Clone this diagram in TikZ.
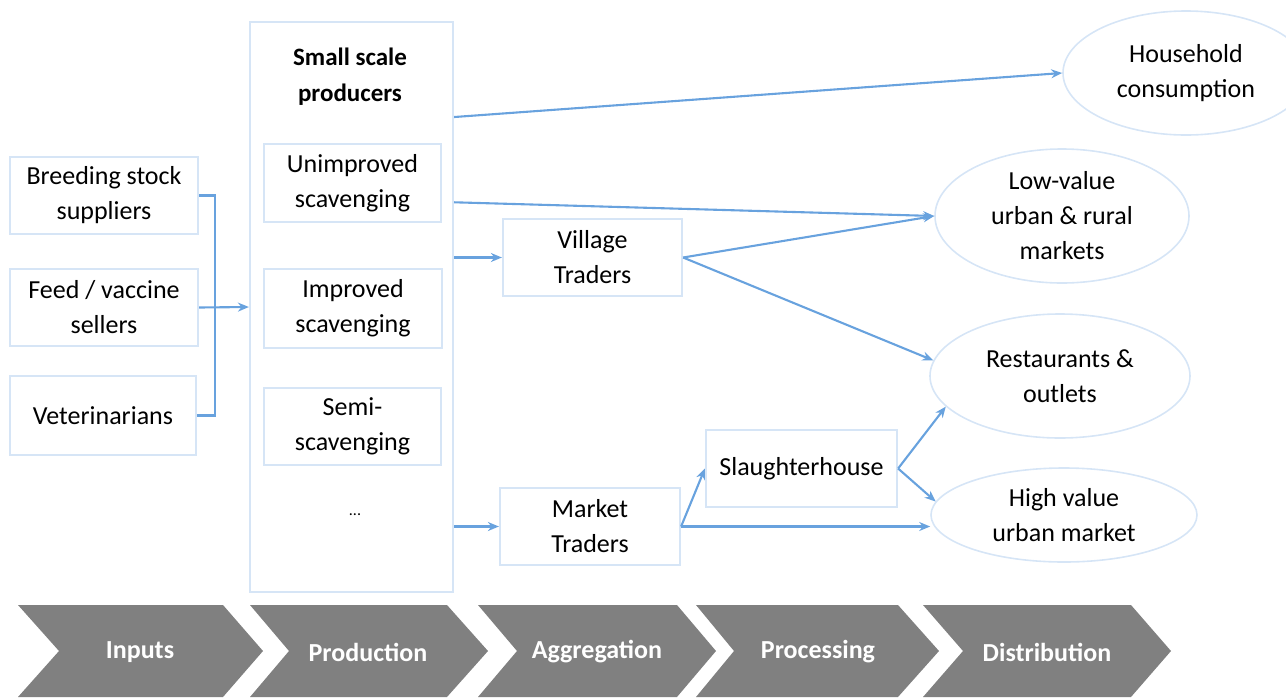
\documentclass[tikz,border=0pt]{standalone}
\usepackage{fontspec}
\setmainfont{Carlito}
\usetikzlibrary{shapes.geometric,arrows.meta,calc}
\definecolor{boxc}{RGB}{214,229,246}
\definecolor{arr}{RGB}{104,162,222}
\definecolor{chev}{RGB}{128,128,128}
\begin{document}
\begin{tikzpicture}[x=1pt,y=-1pt,
  box/.style={draw=boxc, line width=2.2pt, fill=white, align=center,
    font=\fontsize{26}{35}\selectfont, inner sep=0pt},
  oval/.style={ellipse, draw=boxc, line width=1.6pt, inner sep=0pt},
  lbl/.style={align=center, font=\fontsize{26}{35}\selectfont, inner sep=0pt},
  flow/.style={draw=arr, line width=2.1pt, -{Stealth[length=11pt,width=9pt]}},
  bracket/.style={draw=arr, line width=2.6pt},
  chevshape/.style={fill=chev},
  chevtext/.style={text=white, font=\bfseries\fontsize{26}{28}\selectfont, inner sep=0pt}
]
\clip (0,0) rectangle (1286,697);
\useasboundingbox (0,0) rectangle (1286,697);

% inputs
\node[box, minimum width=188pt, minimum height=77pt] (in1) at (104,195.5) {Breeding stock\\suppliers};
\node[box, minimum width=188pt, minimum height=77pt] (in2) at (104,307.5) {Feed / vaccine\\sellers};
\node[box, minimum width=186pt, minimum height=79pt] (in3) at (103,415.5) {Veterinarians};

% production
\node[box, minimum width=203pt, minimum height=570pt] (prod) at (351.5,307) {};
\node[lbl, font=\bfseries\fontsize{25}{36}\selectfont] (title) at (350,77) {Small scale\\producers};
\node[box, minimum width=177pt, minimum height=78pt] (p1) at (352.5,183) {Unimproved\\scavenging};
\node[box, minimum width=178pt, minimum height=79pt] (p2) at (353,308.5) {Improved\\scavenging};
\node[box, minimum width=177pt, minimum height=77pt] (p3) at (352.5,426.5) {Semi-\\scavenging};
\node[lbl, font=\fontsize{16}{18}\selectfont] (dots) at (355,515) {...};

% aggregation / processing
\node[box, minimum width=179pt, minimum height=77pt] (vt) at (592.5,257.5) {Village\\Traders};
\node[box, minimum width=180pt, minimum height=77pt] (mt) at (590,526.5) {Market\\Traders};
\node[box, minimum width=191pt, minimum height=77pt] (sl) at (801.5,468.5) {Slaughterhouse};

% distribution
\node[oval, minimum width=246pt, minimum height=124pt] (hh) at (1186,73) {};
\node[lbl] at (hh.center) {Household\\consumption};
\node[oval, minimum width=254pt, minimum height=134pt] (lv) at (1062,216) {};
\node[lbl] at (lv.center) {Low-value\\urban \& rural\\markets};
\node[oval, minimum width=260pt, minimum height=124pt] (rs) at (1060,376) {};
\node[lbl] at (rs.center) {Restaurants \&\\outlets};
\node[oval, minimum width=266pt, minimum height=94pt] (hv) at (1064,515) {};
\node[lbl] at (hv.center) {High value\\urban market};

% bracket
\draw[bracket] (in1.east) -- ++(16,0) |- (in3.east);
\draw[flow] (in2.east) -- (prod.west);

% flows
\coordinate (s1) at ($(prod.north east)!0.168!(prod.south east)$);
\coordinate (s2) at ($(prod.north east)!0.317!(prod.south east)$);
\draw[flow] (s1) -- (hh.west);
\draw[flow] (s2) -- (lv.west);
\draw[flow] (prod.east |- vt.west) -- (vt.west);
\draw[flow] (prod.east |- mt.west) -- (mt.west);
\draw[flow] (vt.east) -- (lv.west);
\draw[flow] (vt.east) -- (rs.173);
\draw[flow] (mt.east) -- (sl.west);
\draw[flow] (mt.east) -- (mt.east -| hv.west);
\draw[flow] (sl.east) -- (rs.195);
\draw[flow] (sl.east) -- (hv.174);

% chevrons
\foreach \L/\N/\R/\T/\X/\txt/\nm in {18/59/223/263/140/Inputs/c1, 250/289/447/488/368/Production/c2, 478/517/677/716/597/Aggregation/c3, 696/734/898/939/818/Processing/c4, 923/963/1131/1171/1047/Distribution/c5}{
  \fill[chevshape] (\L,605) -- (\R,605) -- (\T,651) -- (\R,697) -- (\L,697) -- (\N,651) -- cycle;
  \node[chevtext] (\nm) at (\X,652) {\txt};
}
\end{tikzpicture}
\end{document}
